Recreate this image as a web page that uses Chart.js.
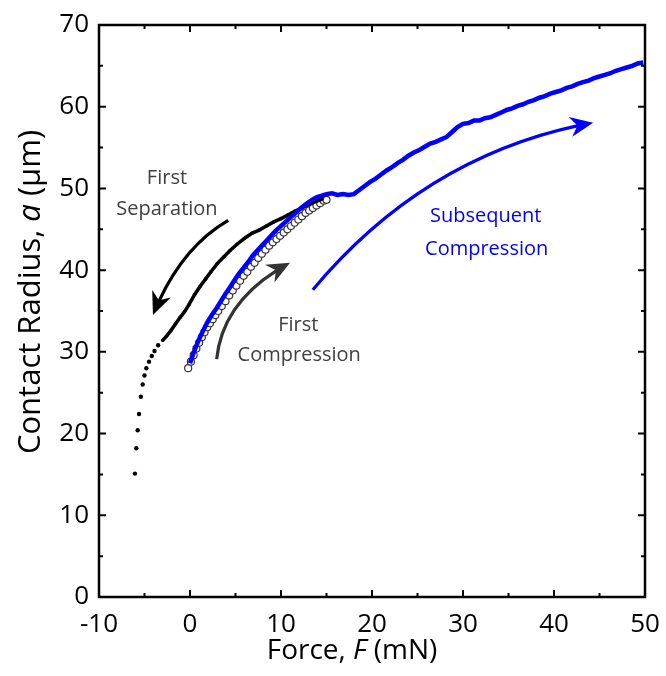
<!DOCTYPE html>
<html lang="en">
<head>
<meta charset="UTF-8">
<title>Contact radius vs force</title>
<script src="https://cdn.jsdelivr.net/npm/chart.js"></script>
<style>
  body { margin: 0; background: #fff; }
  #wrap { width: 666px; height: 676px; }
</style>
</head>
<body>
<div id="wrap"><canvas id="myChart" width="666" height="676"></canvas></div>
<script>
// first separation (black dots), from top end downwards
const sepForce = [14.5, 13.8, 13.0, 12.3, 11.5, 10.7, 10.0, 9.2, 8.4, 7.6, 6.8, 6.0, 5.2, 4.4, 3.7, 3.0, 2.3, 1.7, 1.1, 0.5, -0.1, -0.6, -1.1, -1.6, -2.1, -2.6, -3.0,
                  -3.5, -3.9, -4.2, -4.5, -4.8, -5.0, -5.2, -5.4, -5.6, -5.75, -5.9, -6.05];
const sepRadius = [48.7, 48.4, 48.0, 47.6, 47.2, 46.7, 46.3, 45.9, 45.4, 44.9, 44.5, 43.9, 43.2, 42.4, 41.6, 40.8, 39.8, 38.9, 38.0, 37.0, 35.8, 34.9, 34.2, 33.4, 32.6, 31.9, 31.4,
                   30.8, 30.1, 29.5, 28.8, 28.0, 27.1, 26.0, 24.5, 22.4, 20.4, 18.2, 15.1];

// first compression (open circles)
const compForce = [-0.2, 0.1, 0.4, 0.7, 1.0, 1.3, 1.6, 1.9, 2.2, 2.5, 2.8, 3.1, 3.5, 3.9, 4.3, 4.7, 5.1, 5.5, 5.9, 6.3, 6.7, 7.1, 7.5, 7.9, 8.3,
                   8.7, 9.1, 9.5, 9.9, 10.3, 10.7, 11.1, 11.5, 11.9, 12.3, 12.7, 13.1, 13.5, 13.9, 14.3, 14.7, 15.0];
const compRadius = [28.0, 28.8, 29.6, 30.4, 31.1, 31.8, 32.4, 33.0, 33.5, 34.0, 34.5, 35.0, 35.6, 36.2, 36.9, 37.5, 38.1, 38.7, 39.3, 39.8, 40.4, 40.9, 41.5, 42.0, 42.5,
                    43.0, 43.4, 43.8, 44.2, 44.6, 45.0, 45.4, 45.8, 46.2, 46.6, 47.0, 47.3, 47.6, 47.9, 48.2, 48.5, 48.6];

// subsequent compression (blue)
const subForce = [0.0, 0.4, 0.9, 1.4, 1.9, 2.4, 2.9, 3.4, 3.9, 4.4, 4.9, 5.4, 5.9, 6.4, 6.9, 7.4, 7.9, 8.4, 8.9, 9.4, 9.9, 10.4, 10.9, 11.4, 11.9, 12.4, 12.9, 13.4, 13.9, 14.4,
                  15.0, 15.6, 16.2, 16.8, 17.4, 18.0, 18.6, 19.2, 19.8, 20.4, 21.0, 21.6, 22.2, 22.8, 23.4, 24.0, 24.6, 25.2, 25.8, 26.4, 27.0, 27.6, 28.2, 28.8, 29.4,
                  30.0, 30.6, 31.2, 31.8, 32.4, 33.0, 33.6, 34.2, 34.8, 35.4, 36.0, 36.6, 37.2, 37.8, 38.4, 39.0, 39.6, 40.2, 40.8, 41.4, 42.0, 42.6, 43.2, 43.8, 44.4,
                  45.0, 45.6, 46.2, 46.8, 47.4, 48.0, 48.6, 49.2, 49.8];
const subRadius = [28.6, 29.9, 31.3, 32.5, 33.6, 34.5, 35.3, 36.2, 37.1, 37.9, 38.8, 39.6, 40.3, 41.0, 41.8, 42.4, 43.0, 43.6, 44.2, 44.8, 45.3, 45.8, 46.3, 46.8, 47.3, 47.8, 48.2, 48.6, 48.9, 49.1,
                   49.3, 49.4, 49.2, 49.3, 49.2, 49.3, 49.8, 50.3, 50.8, 51.2, 51.7, 52.2, 52.6, 53.1, 53.5, 54.0, 54.4, 54.7, 55.1, 55.5, 55.7, 56.0, 56.3, 56.9, 57.5,
                   57.9, 58.0, 58.3, 58.3, 58.6, 58.7, 59.0, 59.3, 59.6, 59.8, 60.1, 60.3, 60.6, 60.8, 61.1, 61.3, 61.6, 61.8, 62.0, 62.3, 62.5, 62.8, 63.0, 63.2, 63.5,
                   63.7, 63.9, 64.1, 64.4, 64.6, 64.8, 65.0, 65.3, 65.4];

// annotations, in data units: [tail, bend, tip]
const arrows = [
    { pts: [[4.2, 46.1], [-1.15, 42.65], [-4.07, 34.5]], color: '#000000' },
    { pts: [[2.93, 29.1], [3.59, 36.5], [10.99, 40.9]], color: '#333333' },
    { pts: [[13.5, 37.6], [26.0, 54.3], [44.3, 58.05]], color: '#0000ff' }
];
const notes = [
    { text: 'First', x: -2.53, y: 51.3, color: '#404040' },
    { text: 'Separation', x: -2.53, y: 47.5, color: '#404040' },
    { text: 'First', x: 11.9, y: 33.2, color: '#404040' },
    { text: 'Compression', x: 12.0, y: 29.6, color: '#404040' },
    { text: 'Subsequent', x: 32.5, y: 46.6, color: '#0000ff' },
    { text: 'Compression', x: 32.6, y: 42.5, color: '#0000ff' }
];

const FONT = '"Open Sans", sans-serif';

function pairs(xs, ys) {
    return xs.map((x, i) => ({ x: x, y: ys[i] }));
}

const decor = {
    id: 'decor',
    afterDatasetsDraw(chart) {
        const c = chart.ctx;
        const a = chart.chartArea;
        const xs = chart.scales.x, ys = chart.scales.y;
        const px = v => xs.getPixelForValue(v);
        const py = v => ys.getPixelForValue(v);
        c.save();

        // frame
        c.strokeStyle = '#000';
        c.lineWidth = 2.5;
        c.strokeRect(a.left, a.top, a.right - a.left, a.bottom - a.top);

        // inward ticks, major every 10, minor every 5
        c.lineWidth = 2;
        c.beginPath();
        for (let v = -10; v <= 50; v += 5) {
            const len = v % 10 === 0 ? 7 : 4;
            const x = px(v);
            c.moveTo(x, a.bottom); c.lineTo(x, a.bottom - len);
            c.moveTo(x, a.top); c.lineTo(x, a.top + len);
        }
        for (let v = 0; v <= 70; v += 5) {
            const len = v % 10 === 0 ? 7 : 4;
            const y = py(v);
            c.moveTo(a.left, y); c.lineTo(a.left + len, y);
            c.moveTo(a.right, y); c.lineTo(a.right - len, y);
        }
        c.stroke();

        // arrows
        arrows.forEach(ar => {
            const p0 = [px(ar.pts[0][0]), py(ar.pts[0][1])];
            const cp = [px(ar.pts[1][0]), py(ar.pts[1][1])];
            const p2 = [px(ar.pts[2][0]), py(ar.pts[2][1])];
            // stop the shaft ~14px before the tip
            const len = (Math.hypot(p2[0] - p0[0], p2[1] - p0[1]) +
                         Math.hypot(cp[0] - p0[0], cp[1] - p0[1]) +
                         Math.hypot(p2[0] - cp[0], p2[1] - cp[1])) / 2;
            const t = 1 - 14 / len;
            const q0 = [p0[0] + t * (cp[0] - p0[0]), p0[1] + t * (cp[1] - p0[1])];
            const q1 = [cp[0] + t * (p2[0] - cp[0]), cp[1] + t * (p2[1] - cp[1])];
            const end = [q0[0] + t * (q1[0] - q0[0]), q0[1] + t * (q1[1] - q0[1])];
            c.strokeStyle = ar.color;
            c.lineWidth = 3.2;
            c.beginPath();
            c.moveTo(p0[0], p0[1]);
            c.quadraticCurveTo(q0[0], q0[1], end[0], end[1]);
            c.stroke();

            let dx = p2[0] - cp[0], dy = p2[1] - cp[1];
            const d = Math.hypot(dx, dy);
            dx /= d; dy /= d;
            const L = 23, W = 10, notch = 16;
            c.fillStyle = ar.color;
            c.beginPath();
            c.moveTo(p2[0], p2[1]);
            c.lineTo(p2[0] - dx * L - dy * W, p2[1] - dy * L + dx * W);
            c.lineTo(p2[0] - dx * notch, p2[1] - dy * notch);
            c.lineTo(p2[0] - dx * L + dy * W, p2[1] - dy * L - dx * W);
            c.closePath();
            c.fill();
        });

        // annotation text
        c.font = '20px ' + FONT;
        c.textAlign = 'center';
        c.textBaseline = 'middle';
        notes.forEach(n => {
            c.fillStyle = n.color;
            c.fillText(n.text, px(n.x), py(n.y));
        });

        // axis titles with italic symbols
        function mixed(parts, size) {
            let w = 0;
            parts.forEach(p => {
                c.font = (p[1] ? 'italic ' : '') + size + 'px ' + FONT;
                w += c.measureText(p[0]).width;
            });
            return w;
        }
        function drawMixed(parts, size, x0, y0) {
            let x = x0;
            c.textAlign = 'left';
            c.textBaseline = 'alphabetic';
            parts.forEach(p => {
                c.font = (p[1] ? 'italic ' : '') + size + 'px ' + FONT;
                c.fillText(p[0], x, y0);
                x += c.measureText(p[0]).width;
            });
        }
        c.fillStyle = '#000';
        const xt = [['Force, ', false], ['F', true], [' (mN)', false]];
        drawMixed(xt, 28, 352 - mixed(xt, 28) / 2, 659);

        const yt = [['Contact Radius, ', false], ['a', true], [' (\u03bcm)', false]];
        c.save();
        c.translate(40, 292);
        c.rotate(-Math.PI / 2);
        drawMixed(yt, 31, -mixed(yt, 31) / 2, 0);
        c.restore();

        c.restore();
    }
};

const config = {
    type: 'scatter',
    data: {
        datasets: [
            {
                label: 'Subsequent Compression',
                data: pairs(subForce, subRadius),
                showLine: true,
                borderColor: '#0000ff',
                backgroundColor: '#0000ff',
                borderWidth: 4.5,
                pointRadius: 0,
                tension: 0
            },
            {
                label: 'First Separation',
                data: pairs(sepForce, sepRadius),
                showLine: true,
                borderColor: '#000',
                backgroundColor: '#000',
                borderWidth: 3.5,
                pointRadius: ctx => (ctx.raw && ctx.raw.y < 31.2 ? 2.2 : 1.8),
                pointBorderWidth: 0,
                segment: {
                    borderColor: ctx => (ctx.p1.parsed.y < 31.2 ? 'rgba(0,0,0,0)' : '#000')
                }
            },
            {
                label: 'First Compression',
                data: pairs(compForce, compRadius),
                showLine: false,
                pointStyle: 'circle',
                pointRadius: 3.5,
                borderColor: '#333',
                backgroundColor: '#fff',
                borderWidth: 1.2
            }
        ]
    },
    options: {
        responsive: false,
        animation: false,
        events: [],
        layout: { padding: { top: 25, right: 21, left: 0, bottom: 0 } },
        scales: {
            x: {
                type: 'linear',
                min: -10,
                max: 50,
                grid: { display: false, drawTicks: false },
                border: { display: false },
                ticks: {
                    stepSize: 10,
                    padding: 12,
                    maxRotation: 0,
                    color: '#000',
                    font: { family: FONT, size: 26 }
                },
                afterFit: s => { s.height = 79; s.paddingLeft = 0; s.paddingRight = 0; }
            },
            y: {
                type: 'linear',
                min: 0,
                max: 70,
                grid: { display: false, drawTicks: false },
                border: { display: false },
                ticks: {
                    stepSize: 10,
                    padding: 10,
                    color: '#000',
                    font: { family: FONT, size: 26 }
                },
                afterFit: s => { s.width = 99; s.paddingTop = 0; s.paddingBottom = 0; }
            }
        },
        plugins: {
            legend: { display: false },
            tooltip: { enabled: false },
            title: { display: false }
        }
    },
    plugins: [decor]
};

new Chart(document.getElementById('myChart'), config);
</script>
</body>
</html>
